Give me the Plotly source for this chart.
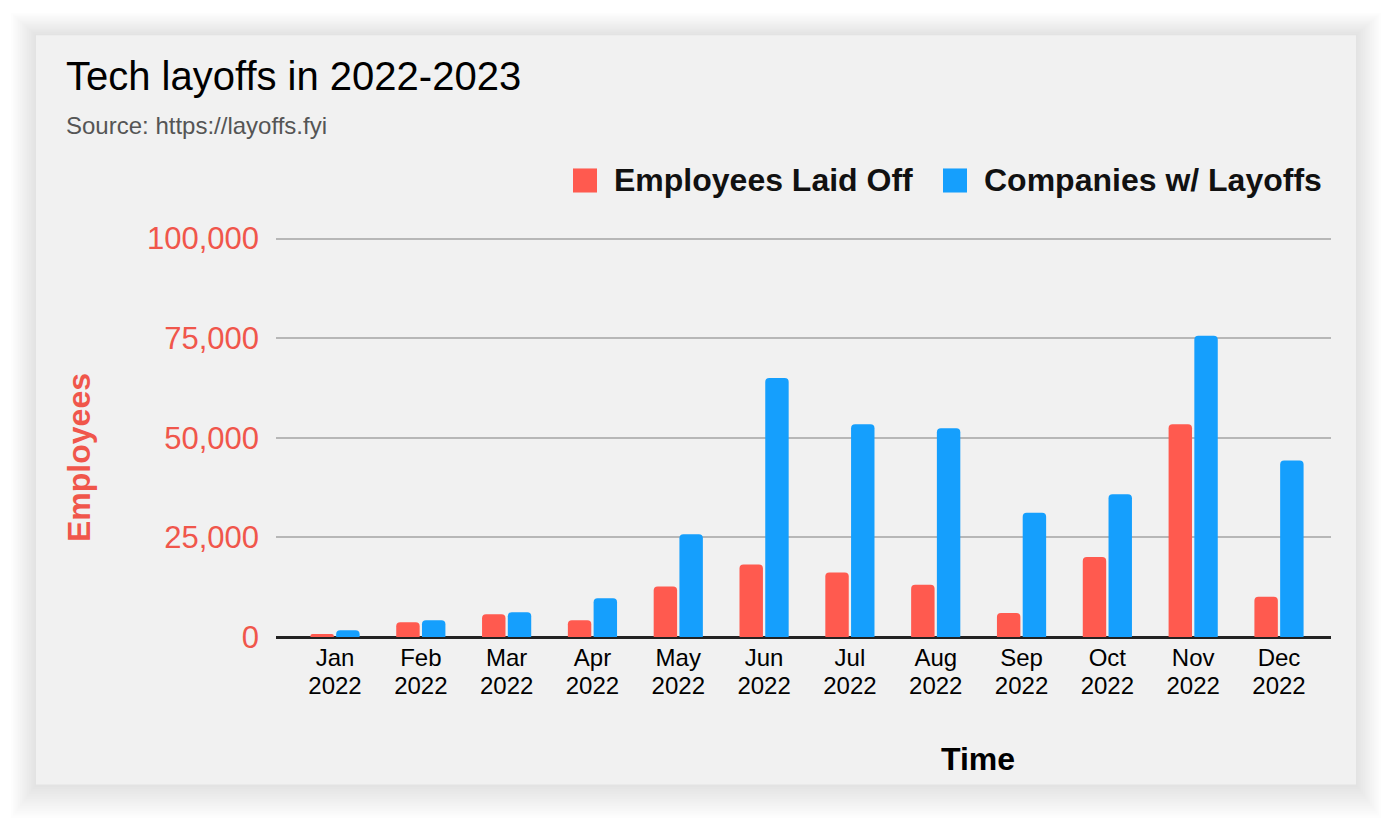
import plotly.graph_objects as go

# ---- data ----
months = ["Jan", "Feb", "Mar", "Apr", "May", "Jun", "Jul", "Aug", "Sep", "Oct", "Nov", "Dec"]
years = ["2022", "2022", "2022", "2022", "2022", "2022", "2022", "2022", "2022", "2022", "2022", "2022"]
employees_laid_off = [750, 3700, 5700, 4200, 12700, 18200, 16200, 13100, 6000, 20100, 53400, 10100]
companies_w_layoffs = [1700, 4200, 6200, 9700, 25800, 65000, 53400, 52400, 31200, 35800, 75600, 44300]
y_ticks = [0, 25000, 50000, 75000, 100000]

RED = "#ff5a4f"
BLUE = "#159ffd"
TICK_RED = "#f0564b"
FONT = "Arial, Liberation Sans, sans-serif"

Y_MAX = 100400  # a little headroom so the 100,000 gridline is drawn

OFF = 8  # page body margin
W, H = 1392 - OFF, 820 - OFF
# plot area in page pixels: x 276..1331, zero line at 636.7, 100,000 at 239
ZERO_PX, TOP_PX = 636.7, 239.0
PLOT_TOP = ZERO_PX - (ZERO_PX - TOP_PX) * Y_MAX / 100000
L = 276 - OFF
T = PLOT_TOP - OFF
R = W - (1331 - OFF)
B = H - (ZERO_PX - OFF)
PW, PH = W - L - R, H - T - B


def px(x):  # page pixel -> paper x
    return (x - OFF - L) / PW


def py(y):  # page pixel -> paper y
    return (H - B - (y - OFF)) / PH


XR = [-0.6875, 11.606]

fig = go.Figure()
fig.add_trace(go.Bar(x=months, y=employees_laid_off, name="Employees Laid Off",
                     marker=dict(color=RED, cornerradius=4, line=dict(width=0)), showlegend=False))
fig.add_trace(go.Bar(x=months, y=companies_w_layoffs, name="Companies w/ Layoffs",
                     marker=dict(color=BLUE, cornerradius=4, line=dict(width=0)), showlegend=False))
# carrier for the second (year) tick row
fig.add_trace(go.Scatter(x=[0], y=[0], xaxis="x2", mode="markers", marker=dict(opacity=0),
                         hoverinfo="skip", showlegend=False))

shapes = []
# card shadow
N = 14
for i in range(N, 0, -1):
    shapes.append(dict(type="rect", xref="paper", yref="paper", layer="below",
                       x0=px(36 - i * 1.8), x1=px(1356 + i * 1.8), y0=py(784 + i * 2.4), y1=py(36 - i * 1.6),
                       fillcolor="rgba(0,0,0,0.0075)", line=dict(width=0)))
# card
shapes.append(dict(type="rect", xref="paper", yref="paper", layer="below",
                   x0=px(36), x1=px(1356), y0=py(784), y1=py(36),
                   fillcolor="#f1f1f1", line=dict(width=0)))
# legend swatches
for x0, c in [(573, RED), (943, BLUE)]:
    shapes.append(dict(type="rect", xref="paper", yref="paper", layer="above",
                       x0=px(x0), x1=px(x0 + 24), y0=py(193), y1=py(169),
                       fillcolor=c, line=dict(width=0)))

annotations = [
    dict(text="Tech layoffs in 2022-2023", x=px(64), y=py(77), xanchor="left", yanchor="middle",
         font=dict(family=FONT, size=40, color="#000000")),
    dict(text="Source: https://layoffs.fyi", x=px(64), y=py(126), xanchor="left", yanchor="middle",
         font=dict(family=FONT, size=24, color="#555555")),
    dict(text="<b>Employees Laid Off</b>", x=px(612), y=py(181), xanchor="left", yanchor="middle",
         font=dict(family=FONT, size=32, color="#111111")),
    dict(text="<b>Companies w/ Layoffs</b>", x=px(982), y=py(181), xanchor="left", yanchor="middle",
         font=dict(family=FONT, size=32, color="#111111")),
    dict(text="<b>Employees</b>", x=px(79), y=py(458), xanchor="center", yanchor="middle", textangle=-90,
         font=dict(family=FONT, size=32, color=TICK_RED)),
    dict(text="<b>Time</b>", x=px(978), y=py(758), xanchor="center", yanchor="middle",
         font=dict(family=FONT, size=32, color="#000000")),
]
for a in annotations:
    a.update(xref="paper", yref="paper", showarrow=False)

fig.update_layout(
    width=W, height=H,
    margin=dict(l=L, r=R, t=T, b=B, pad=0),
    paper_bgcolor="#ffffff",
    plot_bgcolor="rgba(0,0,0,0)",
    barmode="group", bargap=0.4, bargroupgap=0.09,
    shapes=shapes, annotations=annotations,
    showlegend=False,
    xaxis=dict(type="category", range=XR, showgrid=False, zeroline=False, showline=False,
               ticks="", ticklabelstandoff=4,
               tickfont=dict(family=FONT, size=24, color="#000000")),
    xaxis2=dict(overlaying="x", side="bottom", anchor="y", range=XR,
                tickmode="array", tickvals=list(range(len(years))), ticktext=years,
                showgrid=False, zeroline=False, showline=False, ticks="", ticklabelstandoff=32,
                tickfont=dict(family=FONT, size=24, color="#000000")),
    yaxis=dict(range=[0, Y_MAX], tickvals=y_ticks, tickformat=",", showgrid=True, gridcolor="#b7b7b7",
               gridwidth=2, zeroline=True, zerolinecolor="#222222", zerolinewidth=2.5, showline=False,
               ticks="", ticklabelstandoff=16,
               tickfont=dict(family=FONT, size=31, color=TICK_RED)),
)

fig.write_html("out.html")
